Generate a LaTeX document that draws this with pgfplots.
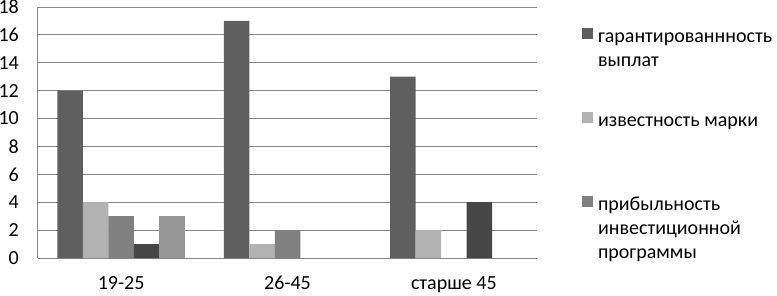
\documentclass[border=0pt]{standalone}
\usepackage{fontspec}
\setmainfont{Carlito}
\usepackage{pgfplots}
\pgfplotsset{compat=1.18}
\definecolor{cA}{HTML}{5F5F5F}
\definecolor{cB}{HTML}{B2B2B2}
\definecolor{cC}{HTML}{808080}
\definecolor{cD}{HTML}{474747}
\definecolor{cE}{HTML}{969696}
\definecolor{gridc}{HTML}{878787}
\pgfplotsset{sq/.style={legend image code/.code={\fill[##1] (0pt,#1-5.5pt) rectangle (11pt,#1+5.5pt);}}}
\begin{document}
\begin{tikzpicture}
\begin{axis}[name=ax, scale only axis, width=499pt, height=251pt,
  ybar=0pt, bar width=25.5pt,
  xmin=-0.5, xmax=2.5, ymin=0, ymax=18,
  ytick={0,2,...,18}, xtick={0,1,2},
  xticklabels={19-25,26-45,старше 45},
  font=\fontsize{20}{24}\selectfont,
  /pgf/number format/assume math mode=true,
  axis lines=left, axis line style={-, draw=gridc, line width=1pt},
  ymajorgrids, grid style={draw=gridc, line width=1pt},
  major tick length=0pt, tick style={draw=none},
  yticklabel style={inner sep=0pt, xshift=-19pt, anchor=east},
  xticklabel style={inner sep=0pt, text height=13pt, text depth=4pt, yshift=-18.5pt, anchor=north},
  legend style={at={(1,1)}, anchor=north west, xshift=45pt, yshift=-21pt,
    draw=none, fill=none, inner sep=0pt, outer sep=0pt,
    row sep=17pt, column sep=5pt,
    nodes={inner sep=0pt, outer sep=0pt, text depth=},
    cells={anchor=west, align=left}},
]
\addplot[fill=cA, draw=none, sq=28pt] coordinates {(0,12) (1,17) (2,13)};
\addlegendentry{\rule{0pt}{14pt}гарантированнность\\выплат\rule[-29pt]{0pt}{29pt}}
\addplot[fill=cB, draw=none, sq=28pt] coordinates {(0,4) (1,1) (2,2)};
\addlegendentry{\rule[-53pt]{0pt}{67pt}известность марки}
\addplot[fill=cC, draw=none, sq=28pt] coordinates {(0,3) (1,2)};
\addlegendentry{\rule{0pt}{14pt}прибыльность\\инвестиционной\\программы\rule[-5pt]{0pt}{5pt}}
\addplot[fill=cD, draw=none] coordinates {(0,1) (2,4)};
\addplot[fill=cE, draw=none] coordinates {(0,3)};
\end{axis}
\pgfresetboundingbox
\useasboundingbox ([xshift=-38pt,yshift=-37pt]ax.south west) rectangle ([xshift=240pt,yshift=7pt]ax.north east);
\end{tikzpicture}
\end{document}
